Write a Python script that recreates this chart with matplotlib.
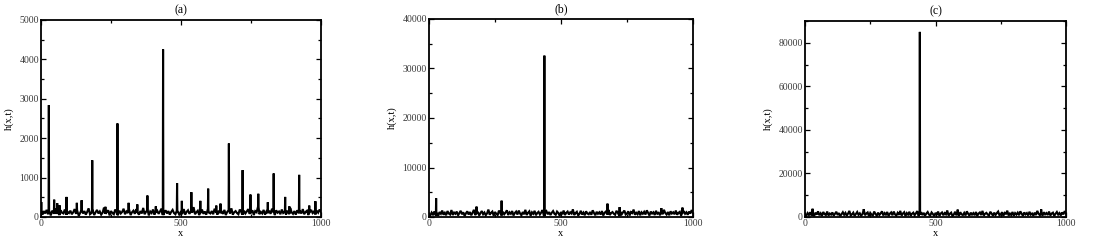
import matplotlib
matplotlib.use("Agg")
import matplotlib.pyplot as plt
from matplotlib.ticker import MultipleLocator

plt.rcParams['font.family'] = ['Liberation Serif', 'DejaVu Serif']

# ---------------- data ----------------
grid_x = list(range(0, 1001, 5))

noise_a = [
    120, 60, 150, 90, 180, 70, 130, 40, 160, 100, 210, 80, 140, 50, 170, 110, 90, 190, 60, 130,
    100, 160, 70, 120, 200, 80, 140, 30, 110, 170, 90, 150, 60, 130, 220, 70, 100, 160, 50, 120,
    180, 90, 140, 60, 110, 240, 80, 130, 170, 40, 150, 100, 70, 190, 120, 60, 160, 90, 130, 210,
    70, 140, 100, 180, 50, 120, 160, 80, 200, 110, 60, 150, 90, 230, 70, 130, 170, 40, 140, 100,
    190, 60, 120, 160, 80, 140, 210, 50, 110, 170, 90, 150, 60, 130, 180, 100, 70, 160, 120, 40,
    150, 90, 200, 60, 130, 170, 80, 140, 110, 250, 70, 120, 160, 50, 100, 190, 80, 140, 60, 170,
    110, 90, 150, 70, 210, 120, 60, 160, 100, 140, 80, 180, 50, 130, 170, 90, 220, 60, 120, 150,
    100, 70, 190, 130, 60, 160, 90, 140, 200, 80, 110, 170, 50, 150, 120, 260, 70, 130, 90, 180,
    60, 140, 100, 160, 80, 210, 120, 50, 170, 110, 140, 70, 190, 100, 130, 60, 160, 90, 230, 120,
    80, 150, 60, 170, 110, 140, 90, 200, 70, 130, 160, 50, 120, 180, 100, 140, 70, 160, 110, 190,
    130,
]
spike_x_a = [1, 28, 47, 58, 66, 91, 128, 145, 183, 230, 273, 313, 344, 380, 410, 436, 486, 503,
             537, 569, 597, 626, 641, 671, 720, 748, 776, 810, 831, 872, 887, 922, 958, 980]
spike_h_a = [380, 2840, 440, 350, 300, 510, 360, 425, 1440, 260, 2375, 360, 320, 545, 270, 4255,
             860, 410, 630, 410, 720, 290, 340, 1865, 1190, 570, 590, 375, 1105, 510, 270, 1070,
             290, 400]

noise_b = [
    600, 300, 900, 500, 1100, 400, 800, 250, 1000, 650, 1300, 450, 850, 350, 1200, 700, 500, 1400, 400, 900,
    650, 1100, 300, 800, 1250, 550, 950, 200, 750, 1150, 500, 1000, 350, 850, 1450, 400, 700, 1050, 300, 800,
    1200, 550, 900, 350, 750, 1500, 450, 850, 1100, 250, 1000, 650, 400, 1300, 800, 350, 1050, 550, 900, 1350,
    400, 950, 650, 1200, 300, 800, 1100, 500, 1300, 700, 350, 1000, 550, 1450, 400, 850, 1150, 250, 950, 650,
    1250, 350, 800, 1050, 500, 900, 1400, 300, 750, 1150, 550, 1000, 400, 850, 1200, 650, 450, 1100, 800, 250,
    1000, 550, 1300, 400, 850, 1100, 500, 950, 700, 1550, 400, 800, 1050, 300, 650, 1250, 500, 900, 350, 1150,
    700, 550, 1000, 450, 1350, 800, 350, 1050, 650, 950, 500, 1200, 300, 850, 1100, 550, 1450, 400, 800, 1000,
    650, 450, 1250, 850, 350, 1050, 550, 950, 1300, 500, 700, 1150, 300, 1000, 800, 1500, 450, 850, 550, 1200,
    350, 950, 650, 1050, 500, 1350, 800, 300, 1100, 700, 950, 400, 1250, 650, 850, 350, 1050, 550, 1450, 800,
    500, 1000, 350, 1150, 700, 950, 550, 1300, 450, 850, 1050, 300, 800, 1200, 650, 950, 450, 1100, 700, 1400,
    850,
]
spike_x_b = [27, 180, 275, 437, 676, 722, 880, 960]
spike_h_b = [3800, 2100, 3300, 32600, 2700, 2000, 1800, 1900]

noise_c = [
    1200, 600, 1800, 900, 2200, 700, 1500, 400, 2000, 1100, 2600, 800, 1700, 500, 2300, 1300, 900, 2500, 700, 1600,
    1100, 2100, 600, 1500, 2400, 900, 1800, 400, 1300, 2200, 1000, 1900, 600, 1600, 2800, 700, 1200, 2000, 500, 1400,
    2300, 1000, 1700, 600, 1300, 2900, 800, 1600, 2100, 400, 1900, 1100, 700, 2500, 1400, 600, 2000, 900, 1700, 2600,
    700, 1800, 1100, 2300, 500, 1500, 2100, 800, 2500, 1200, 600, 1900, 1000, 2800, 700, 1600, 2200, 400, 1800, 1100,
    2400, 600, 1500, 2000, 800, 1700, 2700, 500, 1300, 2200, 900, 1900, 600, 1600, 2300, 1100, 700, 2100, 1400, 400,
    1900, 900, 2500, 600, 1600, 2100, 800, 1800, 1200, 3000, 700, 1500, 2000, 500, 1100, 2400, 800, 1700, 600, 2200,
    1200, 900, 1900, 700, 2600, 1500, 600, 2000, 1100, 1800, 800, 2300, 500, 1600, 2100, 900, 2800, 700, 1500, 1900,
    1100, 700, 2400, 1600, 600, 2000, 900, 1800, 2500, 800, 1200, 2200, 500, 1900, 1500, 2900, 700, 1600, 900, 2300,
    600, 1800, 1100, 2000, 800, 2600, 1500, 500, 2100, 1200, 1800, 700, 2400, 1100, 1600, 600, 2000, 900, 2800, 1500,
    800, 1900, 600, 2200, 1200, 1800, 900, 2500, 700, 1600, 2000, 500, 1500, 2300, 1100, 1800, 700, 2100, 1200, 2700,
    1600,
]
spike_x_c = [29, 225, 440, 585, 905]
spike_h_c = [3800, 3600, 85000, 3400, 3500]

titles = ["(a)", "(b)", "(c)"]
ylims = [5000, 40000, 90000]
ymajor = [1000, 10000, 20000]
yminor = [500, 5000, 10000]


def build(noise, sx, sh):
    pts = dict(zip(grid_x, noise))
    for x, h in zip(sx, sh):
        base = noise[min(range(len(grid_x)), key=lambda k: abs(grid_x[k] - x))]
        for nx in (x - 1, x + 1):
            if 0 <= nx <= 1000 and nx not in pts:
                pts[nx] = base
        pts[x] = h
    xs = sorted(pts)
    return xs, [pts[x] for x in xs]


series = [build(noise_a, spike_x_a, spike_h_a),
          build(noise_b, spike_x_b, spike_h_b),
          build(noise_c, spike_x_c, spike_h_c)]

# ---------------- layout ----------------
W, H = 1098, 245
fig = plt.figure(figsize=(W / 100, H / 100), dpi=100)
boxes = [(41, 20, 321, 217), (429, 19, 693, 217), (805, 21, 1066, 217)]

for i, (l, t, r, b) in enumerate(boxes):
    ax = fig.add_axes([l / W, 1 - b / H, (r - l) / W, (b - t) / H])
    xs, ys = series[i]
    ax.plot(xs, ys, color='black', lw=1.5, solid_joinstyle='miter')
    ax.set_xlim(0, 1000)
    ax.set_ylim(0, ylims[i])
    ax.xaxis.set_major_locator(MultipleLocator(500))
    ax.xaxis.set_minor_locator(MultipleLocator(250))
    ax.yaxis.set_major_locator(MultipleLocator(ymajor[i]))
    ax.yaxis.set_minor_locator(MultipleLocator(yminor[i]))
    ax.tick_params(which='both', direction='in', top=True, right=True,
                   labelsize=7, labelcolor='#3a3a3a', pad=1.5, width=0.9)
    ax.tick_params(which='major', length=3.5)
    ax.tick_params(which='minor', length=2)
    for s in ax.spines.values():
        s.set_linewidth(1.3)
    ax.set_title(titles[i], fontsize=8.5, pad=4.5)
    ax.set_xlabel("x", fontsize=7.5, labelpad=0.5)
    ax.set_ylabel("h(x,t)", fontsize=7.5, labelpad=4)

fig.savefig("out.png", dpi=100)
